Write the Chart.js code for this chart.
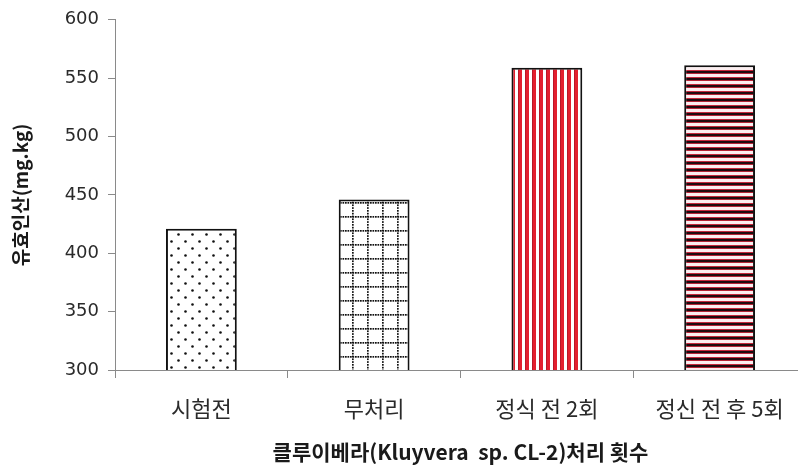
<!DOCTYPE html>
<html>
<head>
<meta charset="utf-8">
<script src="https://cdn.jsdelivr.net/npm/chart.js@4/dist/chart.umd.min.js"></script>
<style>
html,body{margin:0;padding:0;background:#fff;overflow:hidden;width:798px;height:475px;}
#wrap{position:relative;width:806px;height:475px;}
canvas{display:block;}
</style>
</head>
<body>
<div id="wrap"><canvas id="c" width="806" height="475"></canvas></div>
<script>
// ---- data ----
const categories = ['시험전', '무처리', '정식 전 2회', '정신 전 후 5회'];
const values = [421, 446, 559, 561];
const yTitle = '유효인산(mg.kg)';
const xTitle = '클루이베라(Kluyvera  sp. CL-2)처리 횟수';
const yMin = 300, yMax = 600, yStep = 50;

// ---- patterns ----
function makePattern(w, h, draw) {
  const c = document.createElement('canvas');
  c.width = w; c.height = h;
  const g = c.getContext('2d');
  g.fillStyle = '#fff'; g.fillRect(0, 0, w, h);
  draw(g);
  return document.getElementById('c').getContext('2d').createPattern(c, 'repeat');
}
const dots = makePattern(14, 14, g => {
  g.fillStyle = '#111';
  g.beginPath(); g.arc(3.5, 3.5, 1.3, 0, Math.PI * 2); g.fill();
  g.beginPath(); g.arc(10.5, 10.5, 1.3, 0, Math.PI * 2); g.fill();
});
const dotGrid = makePattern(15, 14, g => {
  g.fillStyle = '#111';
  for (let x = 0; x < 15; x += 2.5) g.fillRect(x, 6, 1.7, 1.7);
  for (let y = 0; y < 14; y += 2.8) g.fillRect(7, y, 1.7, 1.7);
});
const vStripes = makePattern(7, 10, g => {
  g.fillStyle = '#e3202f';
  g.fillRect(0, 0, 4, 10);
  g.fillStyle = '#b81828';
  g.fillRect(0, 0, 1, 10);
});
const hStripes = makePattern(10, 7, g => {
  g.fillStyle = '#c4283c'; g.fillRect(0, 0, 10, 1);
  g.fillStyle = '#1e0b0f'; g.fillRect(0, 1, 10, 2);
  g.fillStyle = '#b42436'; g.fillRect(0, 3, 10, 1);
  g.fillStyle = '#fbeef0'; g.fillRect(0, 4, 10, 3);
});

const tickFont = {family: 'DejaVu Sans', size: 18};
const catFont = {family: 'Noto Sans CJK KR', size: 22};

new Chart(document.getElementById('c'), {
  type: 'bar',
  data: {
    labels: categories,
    datasets: [{
      data: values,
      backgroundColor: [dots, dotGrid, vStripes, hStripes],
      borderColor: '#111',
      borderWidth: 2,
      borderSkipped: 'bottom',
      categoryPercentage: 1,
      barPercentage: 0.41
    }]
  },
  options: {
    responsive: false,
    animation: false,
    devicePixelRatio: 1,
    layout: {padding: {top: 18, left: 0, right: 0, bottom: 0}},
    plugins: {legend: {display: false}, tooltip: {enabled: false}},
    scales: {
      x: {
        afterFit: s => { s.height = 105; },
        grid: {display: true, drawOnChartArea: false, drawTicks: true, tickLength: 8, color: '#8a8a8a', offset: true},
        border: {display: true, color: '#8a8a8a', width: 1},
        ticks: {font: catFont, color: '#2a2a2a', padding: 17, maxRotation: 0, autoSkip: false},
        title: {display: true, text: xTitle, color: '#1a1a1a',
          font: {family: 'Noto Sans CJK KR', size: 21, weight: 'bold'},
          padding: {top: 0, bottom: 10}}
      },
      y: {
        min: yMin, max: yMax,
        afterFit: s => { s.width = 115; },
        grid: {display: true, drawOnChartArea: false, drawTicks: true, tickLength: 7, color: '#8a8a8a'},
        border: {display: true, color: '#8a8a8a', width: 1},
        ticks: {stepSize: yStep, font: tickFont, color: '#2a2a2a', padding: 9},
        title: {display: true, text: yTitle, color: '#1a1a1a',
          font: {family: 'Noto Sans CJK KR', size: 19, weight: 'bold'},
          padding: {top: 9, bottom: 0}}
      }
    }
  }
});
</script>
</body>
</html>
